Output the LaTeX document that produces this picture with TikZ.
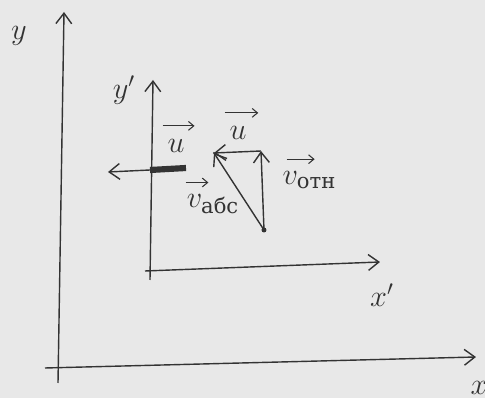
\documentclass[tikz,border=0pt]{standalone}
\usepackage{amsmath}
\usepackage{fontspec}
\setmainfont{DejaVu Serif}
\usetikzlibrary{arrows.meta}

\tikzset{
    vecarr/.style={-{Straight Barb[length=3pt,width=5pt]}, line width=0.6pt}
}

\begin{document}
\begin{tikzpicture}[x=0.02cm, y=-0.02cm, >={Straight Barb[length=6pt,width=9pt]},
    line width=0.8pt, color=black!80, font=\LARGE]
        % Фон и границы рисунка
        \fill[black!9] (0,0) rectangle (485,398);
        \useasboundingbox (0,0) rectangle (485,398);

        % Неподвижная система XY
        \coordinate (Ybeg) at (58,383);
        \coordinate (Yend) at (64,12);
        \coordinate (Xbeg) at (45,368);
        \coordinate (Xend) at (476,357);
        \draw[->] (Ybeg) -- (Yend);
        \draw[->] (Xbeg) -- (Xend);
        \node (lblY) at (19,36) {$y$};
        \node (lblX) at (479,388) {$x$};

        % Подвижная система X'Y'
        \coordinate (ypbeg) at (150,280);
        \coordinate (ypend) at (153,80);
        \coordinate (xpbeg) at (145,271);
        \coordinate (xpend) at (380,262);
        \draw[->] (ypbeg) -- (ypend);
        \draw[->] (xpbeg) -- (xpend);
        \node (lblyp) at (124,90) {$y'$};
        \node (lblxp) at (382,295) {$x'$};

        % Тело на оси x'
        \coordinate (body) at (150,170);
        \coordinate (bodyL) at (108,172);
        \coordinate (bodyR) at (186,168);
        \draw[->] (body) -- (bodyL);
        \draw[line width=3.5pt] (body) -- (bodyR);
        \node (lblu1) at (176,146) {$u$};
        \draw[vecarr] ([yshift=4pt,xshift=1pt]lblu1.north west) -- ([yshift=4pt,xshift=2pt]lblu1.north east);

        % Треугольник скоростей
        \coordinate (A) at (214,153);
        \coordinate (B) at (261,151);
        \coordinate (C) at (264,230);
        \draw[->] (B) -- (A);
        \draw[->] (C) -- (B);
        \draw[->] (C) -- (A);
        \fill (A) circle (1.2);
        \fill (C) circle (2.5);

        % Подписи скоростей
        \node (lblu2) at (238,133) {$u$};
        \draw[vecarr] ([yshift=4pt,xshift=1pt]lblu2.north west) -- ([yshift=4pt,xshift=3pt]lblu2.north east);
        \node[right] (lblrel) at (276,180) {$v_{\text{отн}}$};
        \draw[vecarr] ([yshift=3pt,xshift=6pt]lblrel.north west) -- ([yshift=3pt,xshift=22pt]lblrel.north west);
        \node (lblabs) at (213,204) {$v_{\text{абс}}$};
        \draw[vecarr] ([yshift=3pt,xshift=3pt]lblabs.north west) -- ([yshift=3pt,xshift=16pt]lblabs.north west);
\end{tikzpicture}
\end{document}
